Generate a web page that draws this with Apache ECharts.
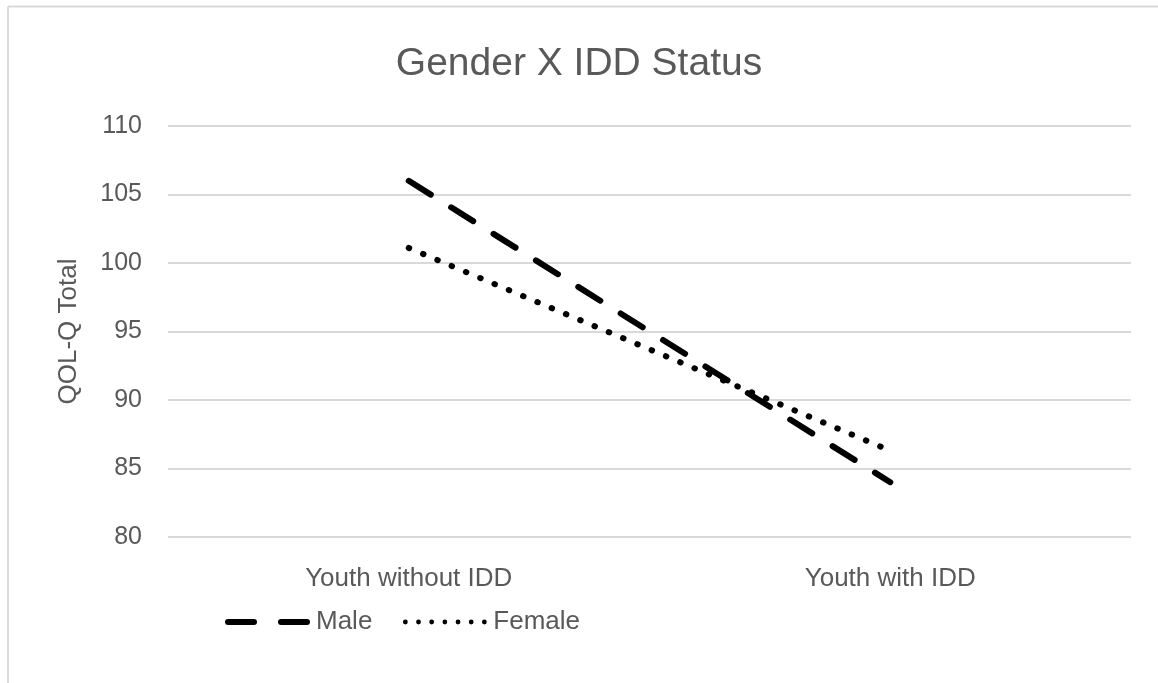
<!DOCTYPE html>
<html>
<head>
<meta charset="utf-8">
<script src="https://cdn.jsdelivr.net/npm/echarts@6/dist/echarts.min.js"></script>
<style>
html,body{margin:0;padding:0;background:#fff;}
#chart{width:1158px;height:683px;}
</style>
</head>
<body>
<div id="chart"></div>
<script>
const categories = ["Youth without IDD", "Youth with IDD"];
const maleValues = [106, 84];
const femaleValues = [101.1, 86.3];
const yMin = 80, yMax = 110, yStep = 5;

const FONT = "'Liberation Sans', Arial, sans-serif";

// legend icons (85 x 6 box)
const maleIcon = 'path://M3,0 H29 A3,3 0 0 1 29,6 H3 A3,3 0 0 1 3,0 Z M56,0 H82 A3,3 0 0 1 82,6 H56 A3,3 0 0 1 56,0 Z';
let femaleIconPath = '';
for (let i = 0; i < 7; i++) {
  const cx = 3 + i * 13.17;
  femaleIconPath += 'M' + (cx - 2.4) + ',3 A2.4,2.4 0 1 0 ' + (cx + 2.4) + ',3 A2.4,2.4 0 1 0 ' + (cx - 2.4) + ',3 Z ';
}
femaleIconPath += 'M0,0 L0.01,0 Z M85,6 L84.99,6 Z';
const femaleIcon = 'path://' + femaleIconPath;

const chart = echarts.init(document.getElementById('chart'));
chart.setOption({
  animation: false,
  backgroundColor: '#ffffff',
  title: {
    text: 'Gender X IDD Status',
    left: 'center',
    top: 40,
    textStyle: { fontFamily: FONT, fontSize: 39, fontWeight: 'normal', color: '#595959' }
  },
  graphic: [
    { type: 'line', shape: { x1: 8, y1: 6.5, x2: 1158, y2: 6.5 }, style: { stroke: '#d9d9d9', lineWidth: 2 } },
    { type: 'line', shape: { x1: 8, y1: 6.5, x2: 8, y2: 683 }, style: { stroke: '#d9d9d9', lineWidth: 2 } }
  ],
  grid: { left: 168, right: 27, top: 126, bottom: 146, containLabel: false },
  legend: {
    left: 220,
    top: 604,
    itemWidth: 85,
    itemHeight: 6,
    itemGap: 30,
    textStyle: { fontFamily: FONT, fontSize: 26, color: '#595959', padding: [0, 0, 0, 1] },
    data: [
      { name: 'Male', icon: maleIcon, itemStyle: { color: '#000000', borderWidth: 0 } },
      { name: 'Female', icon: femaleIcon, itemStyle: { color: '#000000', borderWidth: 0 } }
    ]
  },
  xAxis: {
    type: 'category',
    data: categories,
    boundaryGap: true,
    axisLine: { show: false },
    axisTick: { show: false },
    axisLabel: { fontFamily: FONT, fontSize: 26, color: '#595959', margin: 29 }
  },
  yAxis: {
    type: 'value',
    min: yMin,
    max: yMax,
    interval: yStep,
    name: 'QOL-Q Total',
    nameLocation: 'middle',
    nameGap: 86,
    nameTextStyle: { fontFamily: FONT, fontSize: 26, color: '#595959' },
    axisLine: { show: false },
    axisTick: { show: false },
    axisLabel: { fontFamily: FONT, fontSize: 25, color: '#595959', margin: 26 },
    splitLine: { lineStyle: { color: '#d9d9d9', width: 2 } }
  },
  series: [
    {
      name: 'Male',
      type: 'line',
      data: maleValues,
      symbol: 'none',
      color: '#000000',
      lineStyle: { color: '#000000', width: 6, type: [26, 24], cap: 'round' }
    },
    {
      name: 'Female',
      type: 'line',
      data: femaleValues,
      symbol: 'none',
      color: '#000000',
      lineStyle: { color: '#000000', width: 6, type: [0.5, 15], cap: 'round' }
    }
  ]
});
</script>
</body>
</html>
